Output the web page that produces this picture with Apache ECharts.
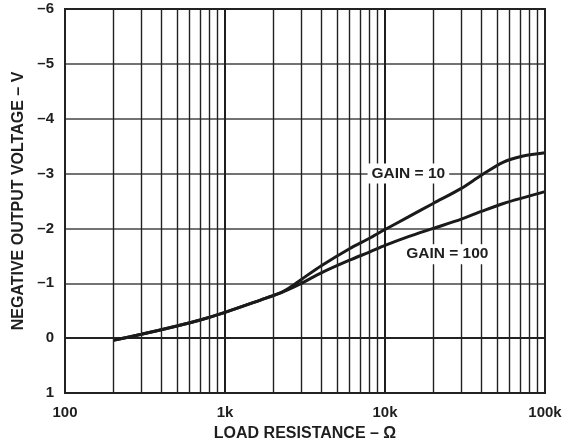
<!DOCTYPE html>
<html>
<head>
<meta charset="utf-8">
<script src="https://cdn.jsdelivr.net/npm/echarts@6/dist/echarts.min.js"></script>
<style>
html,body{margin:0;padding:0;background:#fff;}
#chart{width:575px;height:443px;}
</style>
</head>
<body>
<div id="chart"></div>
<script>
// ---- data ----
var gain10Res = [200, 300, 500, 700, 1000, 1650, 2200, 2500, 3000, 4000, 6000, 8000, 10000, 14000, 20000, 30000, 40000, 55000, 73000, 100000];
var gain10V   = [0.04, -0.07, -0.22, -0.33, -0.47, -0.69, -0.82, -0.91, -1.07, -1.32, -1.63, -1.82, -1.98, -2.21, -2.455, -2.73, -2.97, -3.21, -3.32, -3.38];
var gain100Res = [200, 300, 500, 700, 1000, 1650, 2200, 2500, 3000, 4000, 6000, 8000, 10000, 14000, 20000, 30000, 40000, 55000, 100000];
var gain100V   = [0.04, -0.07, -0.22, -0.33, -0.47, -0.69, -0.82, -0.89, -1.0, -1.19, -1.42, -1.57, -1.69, -1.85, -2.0, -2.17, -2.31, -2.455, -2.67];
var xTickLabels = {100: '100', 1000: '1k', 10000: '10k', 100000: '100k'};
var minorGridValues = [200, 300, 400, 500, 600, 700, 800, 900,
                       2000, 3000, 4000, 5000, 6000, 7000, 8000, 9000,
                       20000, 30000, 40000, 50000, 60000, 70000, 80000, 90000];
var seriesNames = ['GAIN = 10', 'GAIN = 100'];

function pairs(xs, ys) { return xs.map(function (x, i) { return [x, ys[i]]; }); }

var FONT = '"Liberation Sans", Arial, Helvetica, sans-serif';
var TXT = '#1e1e1e';

var chart = echarts.init(document.getElementById('chart'), null, {renderer: 'canvas'});
chart.setOption({
  animation: false,
  backgroundColor: '#fff',
  grid: {left: 65, right: 30, top: 9, bottom: 50, containLabel: false, outerBoundsMode: 'none',
         show: true, borderColor: '#222', borderWidth: 2, backgroundColor: 'transparent', z: 5},
  xAxis: {
    type: 'log', logBase: 10, min: 100, max: 100000,
    name: 'LOAD RESISTANCE – Ω', nameLocation: 'middle', nameGap: 33,
    nameTextStyle: {fontFamily: FONT, fontWeight: 'bold', fontSize: 16, color: TXT},
    axisLine: {show: true, lineStyle: {color: '#222', width: 2}},
    axisTick: {show: false},
    axisLabel: {margin: 12, fontFamily: FONT, fontWeight: 'bold', fontSize: 15, color: TXT,
      formatter: function (v) { return xTickLabels[Math.round(v)] || ''; }},
    splitLine: {show: true, lineStyle: {color: '#1e1e1e', width: 2}}
  },
  yAxis: {
    type: 'value', min: -6, max: 1, interval: 1, inverse: true,
    name: 'NEGATIVE OUTPUT VOLTAGE – V', nameLocation: 'middle', nameGap: 36,
    nameTextStyle: {fontFamily: FONT, fontWeight: 'bold', fontSize: 16, color: TXT},
    axisLine: {show: true, lineStyle: {color: '#222', width: 2}},
    axisTick: {show: false},
    axisLabel: {margin: 11, fontFamily: FONT, fontWeight: 'bold', fontSize: 15, color: TXT,
      formatter: function (v) { return v < 0 ? '–' + (-v) : String(v); }},
    splitLine: {show: true, lineStyle: {color: '#444', width: 1.5}}
  },
  series: [
    {
      type: 'line', data: [], silent: true, z: 1,
      markLine: {
        silent: true, symbol: ['none', 'none'], label: {show: false},
        lineStyle: {color: '#222', width: 1.4, type: 'solid'},
        data: minorGridValues.map(function (v) { return {xAxis: v}; })
      }
    },
    {
      name: seriesNames[0], type: 'line', data: pairs(gain10Res, gain10V),
      showSymbol: false, smooth: 0.3, z: 3,
      lineStyle: {color: '#1a1a1a', width: 3},
      markPoint: {
        symbol: 'rect', symbolSize: 1, itemStyle: {color: 'transparent'},
        label: {show: true, position: 'inside', formatter: seriesNames[0], backgroundColor: '#fff', padding: [2, 4],
          fontFamily: FONT, fontWeight: 'bold', fontSize: 15.5, color: TXT},
        data: [{coord: [14000, -3.0]}]
      }
    },
    {
      name: seriesNames[1], type: 'line', data: pairs(gain100Res, gain100V),
      showSymbol: false, smooth: 0.3, z: 3,
      lineStyle: {color: '#1a1a1a', width: 3},
      markPoint: {
        symbol: 'rect', symbolSize: 1, itemStyle: {color: 'transparent'},
        label: {show: true, position: 'inside', formatter: seriesNames[1], backgroundColor: '#fff', padding: [2, 4],
          fontFamily: FONT, fontWeight: 'bold', fontSize: 15.5, color: TXT},
        data: [{coord: [24500, -1.53]}]
      }
    }
  ]
});
</script>
</body>
</html>
